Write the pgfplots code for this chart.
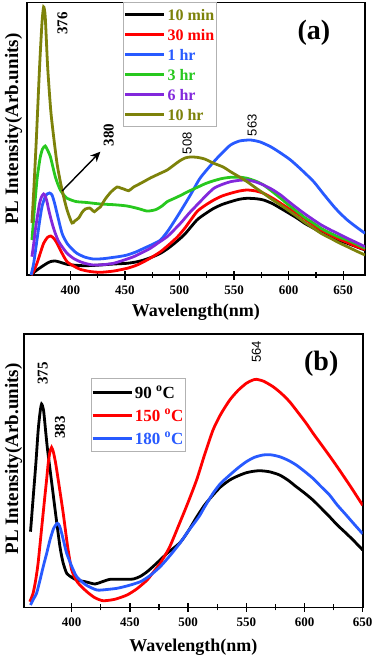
\documentclass[border=0pt]{standalone}
\usepackage{fontspec}
\setmainfont{Liberation Serif}
\newfontfamily\sansf{Liberation Sans}
\usepackage{pgfplots}
\pgfplotsset{compat=1.18}
\usetikzlibrary{arrows.meta}

\definecolor{mblue}{RGB}{40,90,255}
\definecolor{mred}{RGB}{255,0,0}
\definecolor{mgreen}{RGB}{40,200,30}
\definecolor{mpurple}{RGB}{130,40,220}
\definecolor{molive}{RGB}{125,130,10}

\pgfplotsset{
 panel/.style={
  scale only axis,
  ymin=0, ytick=\empty,
  xtick={400,450,...,650},
  minor x tick num=1,
  xtick pos=bottom,
  tick align=center,
  major tick length=9pt, minor tick length=6pt,
  every tick/.append style={line width=1.3pt, black},
  axis line style={line width=1.6pt},
  tick label style={font=\fontsize{13}{13}\selectfont\bfseries},
  /pgf/number format/assume math mode=true,
  xticklabel style={yshift=-3pt},
  xlabel={Wavelength(nm)},
  ylabel={PL Intensity(Arb.units)},
  every axis plot/.append style={line width=2.8pt, smooth, tension=0.4},
  legend cell align=left,
  legend image code/.code={\draw[#1] (0pt,0pt) -- (39pt,0pt);},
  clip mode=individual,
 }
}

\begin{document}
\begin{tikzpicture}
\useasboundingbox (0,0) rectangle (376pt,-656pt);

% ---------------- panel (a) ----------------
\begin{axis}[panel,
  at={(26.7pt,-2.3pt)}, anchor=north west,
  width=338.3pt, height=272.7pt,
  xmin=360, xmax=670, ymax=272.7,
  xlabel style={font=\fontsize{18}{18}\selectfont\bfseries, at={(axis description cs:0.5,0)}, anchor=base, yshift=-41pt},
  ylabel style={font=\fontsize{19}{19}\selectfont\bfseries, at={(axis description cs:-0.0257,0.535)}, anchor=base},
  legend style={at={(axis description cs:0.2856,1.0)}, anchor=north west, draw=gray!60, line width=0.8pt, fill=white,
    inner xsep=0pt, inner ysep=2pt, row sep=0pt, font=\fontsize{16}{16}\selectfont\bfseries,
    nodes={inner ysep=4.5pt, inner xsep=2pt, text height=11pt, text depth=0pt}},
]
\addplot[black] coordinates {
(364,0) (366.5,2.5) (369.4,5) (374,8.5) (378.6,11.7) (382,13.5) (386.2,14) (390,13) (397,10.7) (404,9.8) (412,9.3) (420,9.5) (427.5,10) (440,11) (452,11.7) (460,13) (467.4,15) (475,18) (482.6,21.7) (490,27) (498,34) (505,41) (516,55) (524,61.5) (531.5,66.7) (539,70.5) (546.8,73.3) (555,75.8) (562,76.7) (570,76.3) (577,75) (585,71.5) (592.7,66.7) (600,62) (608,56.7) (615,51.5) (623,46.7) (630,42.3) (638.5,38.3) (646,34.8) (653.8,31.7) (662,28.3) (670,25)
};
\addlegendentry{\textcolor{molive}{10 min}}
\addplot[mred] coordinates {
(364,0) (366.5,4) (369.4,11.7) (372.5,22) (375.5,31.7) (379,37.5) (382,39) (385,36.5) (387.8,31.7) (392.4,21.7) (397,13.3) (403,9) (409,5.7) (418,3.5) (427.5,2.7) (440,4) (452,6.7) (460,9.5) (467.4,13.3) (475,18) (482.6,23.3) (490,30) (498,38) (505,47) (516,63.3) (524,70) (531.5,75) (539,79) (546.8,81.7) (555,84) (562,85) (570,84) (577,81.7) (585,77) (592.7,71.7) (600,66.5) (608,61.5) (615,56) (623,50) (630,45) (638.5,40) (646,36) (653.8,32.5) (662,28.5) (670,25.5)
};
\addlegendentry{\textcolor{mred}{30 min}}
\addplot[mblue] coordinates {
(364,0) (366.4,11.7) (369.4,35) (372,55) (374,68.3) (376.5,77) (378.6,81) (381,82) (383.2,80) (385.5,72) (387.8,61.7) (392.4,41.7) (397,31.7) (402,25.5) (406,21.7) (413,18) (421,16) (430,16.3) (437,17.3) (445,18.5) (452,20) (460,23) (467.4,26.7) (475,30.5) (482.6,35) (490,45) (500,62) (510,80) (519,97) (531.5,113.3) (539,122) (546.8,130) (555,134) (565,135) (574,133) (583.5,128.3) (592,122.5) (601.8,115) (612,105) (623,93.3) (632,81) (641.6,68.3) (647,62) (653.8,55) (662,48) (670,41.7)
};
\addlegendentry{\textcolor{mblue}{1 hr}}
\addplot[mgreen] coordinates {
(364.8,35) (367,65) (369.4,95) (371,108) (372.5,118.3) (374.5,126) (377,129) (379.5,124) (381.7,118.3) (384,108) (386.2,98.3) (388.5,91) (390.8,85) (394,80) (397,76.7) (402,74.5) (406,73.3) (415,72.5) (427.5,71) (440,70.3) (452,69) (462,66.5) (470,64) (475,64.5) (479,65.7) (484,69) (488.7,73.3) (495,76.5) (500.9,79.5) (508,83.5) (516,87.5) (524,91.5) (531.5,94.3) (539,96.5) (546.8,97.7) (555,97.8) (562,96.7) (570,93.8) (577,90) (585,83.5) (592.7,76.7) (600,70) (608,63.3) (615,57.3) (623,51.7) (630,46.5) (638.5,41.7) (646,38) (653.8,35) (662,31) (670,26.7)
};
\addlegendentry{\textcolor{mgreen}{3 hr}}
\addplot[mpurple] coordinates {
(364.8,18.3) (366.5,32) (367.9,45) (370,60) (371.8,71.7) (373.5,78) (375.5,81) (377,79) (378.6,73.3) (380,66) (381.7,58.3) (384,49) (386.2,41.7) (389,34) (392.4,28.3) (397,21.7) (403,16.5) (409,13.3) (415,11.2) (421,10) (430,10.3) (439.5,11.7) (448,14.5) (458,18.3) (465,22) (473.3,26.7) (481,32.5) (488.7,38.3) (495,45) (502,53) (509,62) (516,70) (524,79) (531.5,86.7) (539,90.5) (546.8,93.3) (555,94.7) (562,95) (570,93) (577,90) (585,85.5) (592.7,80) (600,73.5) (608,66.7) (615,61) (623,55) (630,50) (638.5,45) (646,41) (653.8,36.7) (662,32.5) (670,28.3)
};
\addlegendentry{\textcolor{mpurple}{6 hr}}
\addplot[molive] coordinates {
(364.8,52) (366.5,85) (368.8,135) (371.8,208) (374,252) (375.5,268) (377,258) (379.2,208) (382,165) (384.5,140) (388,110) (392.4,85) (397,65) (401.5,52) (404,54) (407.6,57) (411,63) (413.8,66) (417.7,67) (420,65) (422,63.3) (425,66) (427.5,68) (432,76) (437.2,83) (442.8,88) (446,87) (448.9,86) (453.5,84.3) (458,88) (465,92) (473.3,97) (481,101) (488.7,105) (495,110) (500,114) (505,117) (510,118) (516,117.7) (523,116) (531.5,111.7) (540,108) (546.8,103.3) (555,98) (562,93.3) (570,87) (577,81.7) (585,75.5) (592.7,70) (600,64.5) (608,58.3) (615,52.5) (623,46.7) (630,41.5) (638.5,36.7) (646,32.3) (653.8,28.3) (662,24) (670,20)
};
\addlegendentry{\textcolor{molive}{10 hr}}

\node[rotate=90, font=\fontsize{15}{15}\selectfont\bfseries] at (axis cs:392.9,251.7) {376};
\node[rotate=90, font=\fontsize{15}{15}\selectfont\bfseries] at (axis cs:435.1,140) {380};
\node[rotate=90, font=\fontsize{13}{13}\selectfont\sansf] at (axis cs:507.1,131.7) {508};
\node[rotate=90, font=\fontsize{13}{13}\selectfont\sansf] at (axis cs:566.7,149.7) {563};
\node[font=\fontsize{28}{28}\selectfont\bfseries] at (axis cs:623.2,242) {(a)};
\draw[-{Stealth[length=10pt,width=9pt]}, line width=1.4pt] (axis cs:392.4,84) -- (axis cs:427.5,123.3);
\end{axis}

% ---------------- panel (b) ----------------
\begin{axis}[panel,
  at={(24pt,-334pt)}, anchor=north west,
  width=338.7pt, height=273.3pt,
  xmin=359, xmax=650, ymax=273.3,
  xlabel style={font=\fontsize{18}{18}\selectfont\bfseries, at={(axis description cs:0.5,0)}, anchor=base, yshift=-44pt},
  ylabel style={font=\fontsize{19}{19}\selectfont\bfseries, at={(axis description cs:-0.0177,0.543)}, anchor=base},
  legend style={at={(axis description cs:0.197,0.838)}, anchor=north west, draw=gray!60, line width=0.8pt, fill=white,
    inner xsep=0pt, inner ysep=2pt, row sep=0pt, font=\fontsize{17}{17}\selectfont\bfseries,
    nodes={inner ysep=5.5pt, inner xsep=2pt, text height=12pt, text depth=0pt}},
]
\addplot[black] coordinates {
(364.6,75.6) (366.9,110) (369.2,144) (371.2,177.3) (372.8,195) (374.1,203.3) (375.8,197) (377.5,177.3) (379,160) (380.7,144) (383.6,117.3) (386,95) (389.9,60.6) (392.5,45) (395.7,34) (400,30) (404.3,27.3) (412,25.5) (420,23.3) (426,25.5) (433,28) (443,28) (453,28.3) (459,31) (464.8,35.6) (472,43) (482,54) (492.9,64.5) (500,76) (507.2,90) (514,102) (521.4,112.3) (528,120.5) (535.8,127.3) (543,131.5) (550,134.6) (556,136) (561.7,136.6) (570,135.5) (578.6,132.3) (586,127) (592.9,120.6) (600,114.3) (607.2,107.3) (614,99.5) (621.5,90.6) (628,82.5) (635.8,74) (642,67) (650,57.3)
};
\addlegendentry{90 \textsuperscript{o}C}
\addplot[mred] coordinates {
(364,5.6) (366.8,14) (369,27) (371.1,44) (374,77.3) (376.9,110.6) (378.4,127.3) (379.8,144) (381.2,155) (382.7,160) (384.3,155) (386.2,144) (389.3,120.6) (392.7,94) (396.5,60.6) (400,37.3) (405,25) (413,15.6) (420,9.5) (427,6.6) (437,8) (447.5,12.3) (456,18.5) (464.8,27.3) (470,35) (476,44) (484,60) (493,85) (500,105) (507.5,128) (514,152) (521.4,177.3) (528,193) (535.8,207.3) (543,217) (550,224) (555,227) (558.7,228) (565,226) (573,220.6) (580,214) (587.2,205.6) (594,195.5) (601.5,184) (608,173) (615.8,160.6) (623,149) (630,137.3) (640,120) (650,102)
};
\addlegendentry{\textcolor{mred}{150 \textsuperscript{o}C}}
\addplot[mblue] coordinates {
(364.6,2.3) (367,8) (369.8,14) (372.5,26) (375.5,40.6) (378.5,54) (381.3,67.3) (384.5,79) (387.6,84) (389.5,81.5) (391.4,74) (393.5,64) (395.7,54) (400,41) (404.3,30.6) (412,22.5) (421.6,17.3) (430,17.8) (438.9,19) (448,21.5) (459,25.6) (467,31.5) (476,40.6) (485,52.5) (493.5,65) (500,76) (509.3,90.6) (514,100) (521.4,114) (528,124) (535.8,132.3) (543,139.5) (550,145.6) (557,150) (564.3,152.3) (571,152.5) (578.6,150.6) (586,147) (592.9,142.3) (600,136) (607.2,129) (614,121) (621.5,112.3) (628,102.5) (635.8,92.3) (642,84) (650,73.5)
};
\addlegendentry{\textcolor{mblue}{180 \textsuperscript{o}C}}

\node[rotate=90, font=\fontsize{15}{15}\selectfont\bfseries] at (axis cs:375.2,234) {375};
\node[rotate=90, font=\fontsize{15}{15}\selectfont\bfseries] at (axis cs:390,180) {383};
\node[rotate=90, font=\fontsize{13}{13}\selectfont\sansf] at (axis cs:558.7,255.6) {564};
\node[font=\fontsize{28}{28}\selectfont\bfseries] at (axis cs:614.4,244) {(b)};
\end{axis}
\end{tikzpicture}
\end{document}
